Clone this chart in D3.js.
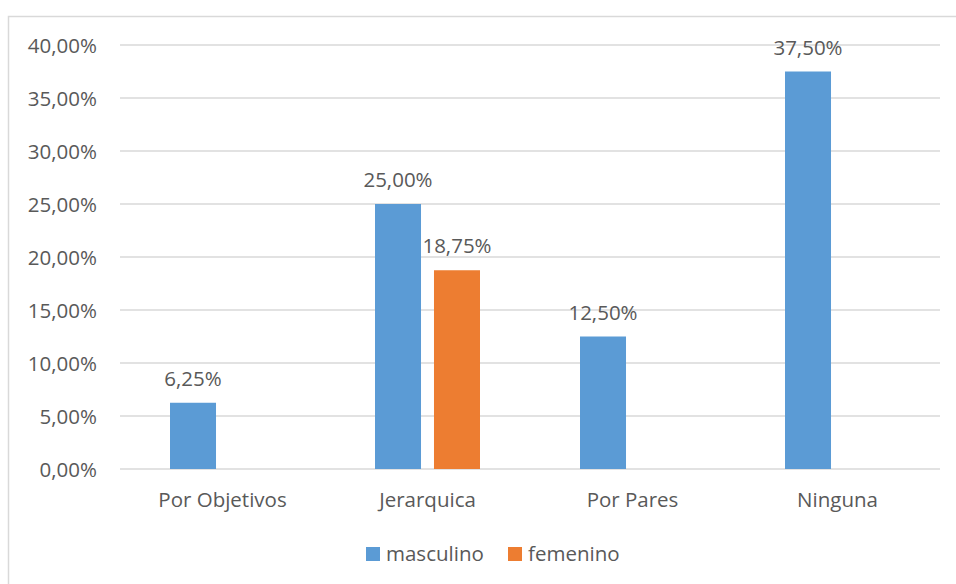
<html>
<script src="https://d3js.org/d3.v7.min.js"></script>
<style>
    body { margin: 0; background: #fff; }
    text { font-family: "Open Sans", "Noto Sans", sans-serif; fill: #595959; }
</style>
<body>
<svg id="visual" width="956" height="584"></svg>
<script>
    // chart data
    const categories = ["Por Objetivos", "Jerarquica", "Por Pares", "Ninguna"];
    const seriesNames = ["masculino", "femenino"];
    const masculino = [6.25, 25.0, 12.5, 37.5];
    const femenino = [null, 18.75, null, null];
    const yTicks = [0, 5, 10, 15, 20, 25, 30, 35, 40];
    const colors = ["#5b9bd5", "#ed7d31"];

    const svg = d3.select("#visual");
    const fs = 20.5;

    // outer chart border
    svg.append("rect")
        .attr("x", 8.5).attr("y", 16.5)
        .attr("width", 960).attr("height", 600)
        .attr("fill", "none")
        .attr("stroke", "#d9d9d9")
        .attr("stroke-width", 1.5);

    const plotLeft = 120, plotRight = 940, plotTop = 45, plotBottom = 469;

    const x = d3.scaleBand().domain(categories).range([plotLeft, plotRight]);
    const xs = d3.scaleBand().domain(seriesNames)
        .range([x.bandwidth() / 2 - 52.5, x.bandwidth() / 2 + 52.5])
        .paddingInner(0.22);
    const y = d3.scaleLinear().domain([0, 40]).range([plotBottom, plotTop]);

    const fmt = v => d3.format(".2f")(v).replace(".", ",") + "%";

    // gridlines
    svg.append("g").selectAll("line")
        .data(yTicks).enter().append("line")
        .attr("x1", plotLeft).attr("x2", plotRight)
        .attr("y1", d => y(d)).attr("y2", d => y(d))
        .attr("stroke", "#d9d9d9").attr("stroke-width", 1.3);

    // y axis labels
    const yAxis = svg.append("g")
        .attr("transform", "translate(97,0)")
        .call(d3.axisLeft(y).tickValues(yTicks).tickSize(0).tickPadding(0).tickFormat(fmt));
    yAxis.select(".domain").remove();
    yAxis.selectAll("text").attr("font-size", fs).attr("fill", "#595959").attr("dy", "0.35em");
    yAxis.attr("font-family", null);

    // x axis labels
    const xAxis = svg.append("g")
        .attr("transform", "translate(0," + plotBottom + ")")
        .call(d3.axisBottom(x).tickSize(0).tickPadding(23));
    xAxis.select(".domain").remove();
    xAxis.selectAll("text").attr("font-size", fs).attr("fill", "#595959");
    xAxis.attr("font-family", null);

    const series = [masculino, femenino];
    const rows = [];
    series.forEach((vals, s) => vals.forEach((v, i) => {
        if (v !== null) rows.push({ cat: categories[i], s: seriesNames[s], si: s, v: v });
    }));

    svg.append("g").selectAll("rect")
        .data(rows).enter().append("rect")
        .attr("x", d => x(d.cat) + xs(d.s))
        .attr("y", d => y(d.v))
        .attr("width", xs.bandwidth())
        .attr("height", d => y(0) - y(d.v))
        .attr("fill", d => colors[d.si]);

    svg.append("g").selectAll("text")
        .data(rows).enter().append("text")
        .attr("x", d => x(d.cat) + xs(d.s) + xs.bandwidth() / 2)
        .attr("y", d => y(d.v) - 17)
        .attr("text-anchor", "middle")
        .attr("font-size", fs)
        .text(d => fmt(d.v));

    // legend
    const legendX = [366, 508];
    const legend = svg.append("g").selectAll("g")
        .data(seriesNames).enter().append("g")
        .attr("transform", (d, i) => "translate(" + legendX[i] + ",547)");
    legend.append("rect").attr("width", 14).attr("height", 14)
        .attr("fill", (d, i) => colors[i]);
    legend.append("text").attr("x", 20).attr("y", 7).attr("dy", "0.35em")
        .attr("font-size", fs).text(d => d);
</script>
</body>
</html>
